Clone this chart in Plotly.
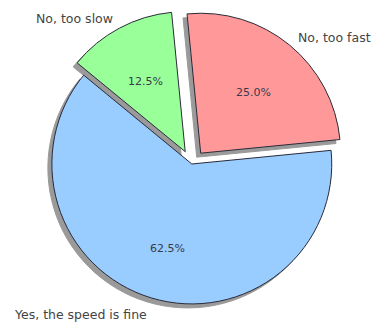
import math
import plotly.graph_objects as go

labels = ["No, too fast", "Yes, the speed is fine", "No, too slow"]
values = [25.0, 62.5, 12.5]
colors = ["#ff9999", "#99ccff", "#99ff99"]
pulls = [0.1, 0.0, 0.1]
start_angle = 95.6  # degrees, counter-clockwise from 3 o'clock

W, H = 375, 323
dom_x = [0.101, 0.922]
dom_y = [0.0156, 0.969]
shadow_dx, shadow_dy = -4, 4  # pixels

fig = go.Figure()

# shadow
fig.add_trace(go.Pie(
    labels=labels, values=values, sort=False, direction="clockwise",
    rotation=90 - start_angle, pull=pulls,
    marker=dict(colors=["#9a9a9a"] * 3, line=dict(color="#9a9a9a", width=1)),
    textinfo="none", hoverinfo="skip", showlegend=False,
    domain=dict(x=[dom_x[0] + shadow_dx / W, dom_x[1] + shadow_dx / W],
                y=[dom_y[0] - shadow_dy / H, dom_y[1] - shadow_dy / H]),
))

fig.add_trace(go.Pie(
    labels=labels, values=values, sort=False, direction="clockwise",
    rotation=90 - start_angle, pull=pulls,
    marker=dict(colors=colors, line=dict(color="#2a2a3a", width=1)),
    textinfo="none", showlegend=False,
    domain=dict(x=dom_x, y=dom_y),
))

# geometry (as plotly computes it) for text placement
w = W * (dom_x[1] - dom_x[0])
h = H * (dom_y[1] - dom_y[0])
r = min(w, h) / 2 / (1 + max(pulls))
cx = W * (dom_x[0] + dom_x[1]) / 2
cy = H * (1 - (dom_y[0] + dom_y[1]) / 2)

annotations = []
total = sum(values)
a = start_angle
for lab, v, p in zip(labels, values, pulls):
    span = 360 * v / total
    mid = math.radians(a - span / 2)
    a -= span
    ox = cx + p * r * math.cos(mid)
    oy = cy - p * r * math.sin(mid)
    # percent
    px = ox + 0.6 * r * math.cos(mid)
    py = oy - 0.6 * r * math.sin(mid)
    annotations.append(dict(x=px / W, y=1 - py / H, xref="paper", yref="paper",
                            text=f"{v / total * 100:.1f}%", showarrow=False,
                            font=dict(family="DejaVu Sans", size=11, color="#3a3a4a"),
                            xanchor="center", yanchor="middle", yshift=-4))
    # label
    lx = ox + 1.1 * r * math.cos(mid)
    ly = oy - 1.1 * r * math.sin(mid)
    annotations.append(dict(x=lx / W, y=1 - ly / H, xref="paper", yref="paper",
                            text=lab, showarrow=False,
                            font=dict(family="DejaVu Sans", size=12.5, color="#444444"),
                            xanchor="left" if math.cos(mid) > 0 else "right",
                            yanchor="middle", yshift=-3,
                            xshift=-2 if math.cos(mid) > 0 else 2))

fig.update_layout(
    width=W, height=H, margin=dict(l=0, r=0, t=0, b=0),
    paper_bgcolor="white", plot_bgcolor="white",
    annotations=annotations,
)

fig.write_html("out.html")
